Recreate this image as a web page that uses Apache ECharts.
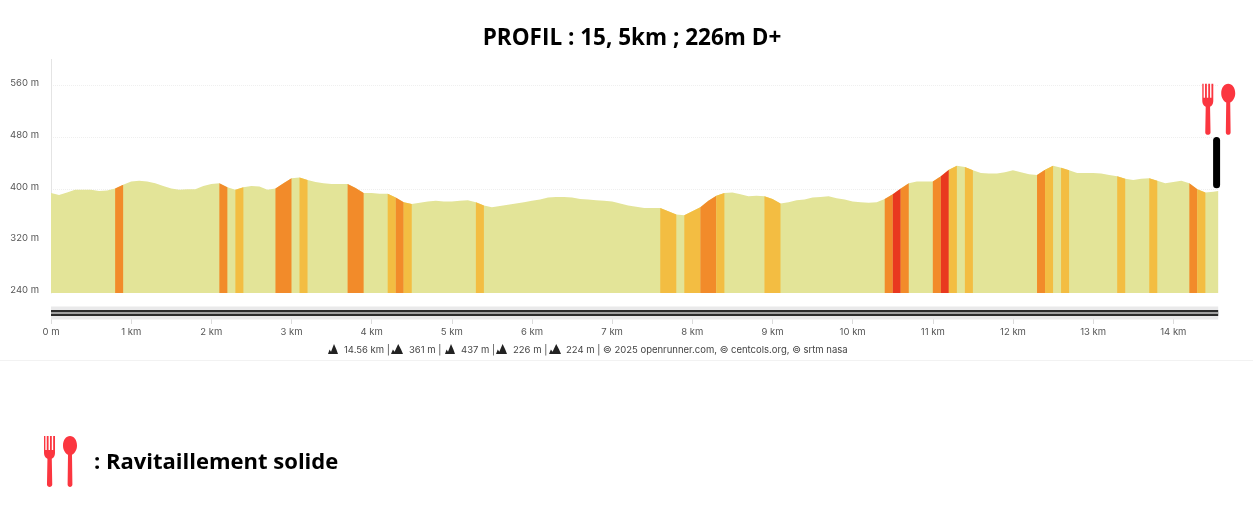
<!DOCTYPE html>
<html><head><meta charset="utf-8">
<style>html,body{margin:0;padding:0;background:#fff}#c{width:1253px;height:510px}</style>
<script src="https://cdn.jsdelivr.net/npm/echarts@6/dist/echarts.min.js"></script>
</head><body><div id="c"></div>
<script>
const distanceKm=[0,0.1,0.2,0.3,0.4,0.5,0.6,0.7,0.8,0.9,1,1.1,1.2,1.3,1.4,1.5,1.6,1.7,1.8,1.9,2,2.1,2.2,2.3,2.4,2.5,2.6,2.7,2.8,2.9,3,3.1,3.2,3.3,3.4,3.5,3.6,3.7,3.8,3.9,4,4.1,4.2,4.3,4.4,4.5,4.6,4.7,4.8,4.9,5,5.1,5.2,5.3,5.4,5.5,5.6,5.7,5.8,5.9,6,6.1,6.2,6.3,6.4,6.5,6.6,6.7,6.8,6.9,7,7.1,7.2,7.3,7.4,7.5,7.6,7.7,7.8,7.9,8,8.1,8.2,8.3,8.4,8.5,8.6,8.7,8.8,8.9,9,9.1,9.2,9.3,9.4,9.5,9.6,9.7,9.8,9.9,10,10.1,10.2,10.3,10.4,10.5,10.6,10.7,10.8,10.9,11,11.1,11.2,11.3,11.4,11.5,11.6,11.7,11.8,11.9,12,12.1,12.2,12.3,12.4,12.5,12.6,12.7,12.8,12.9,13,13.1,13.2,13.3,13.4,13.5,13.6,13.7,13.8,13.9,14,14.1,14.2,14.3,14.4,14.5,14.56];
const elevationM=[394,391,395,399,399,399,397,398,401,407,412,413,412,409,405,401,399,400,400,405,408,409,403,399,403,405,404,399,401,409,417,418,414,411,409,408,408,408,402,394,394,393,393,387,380,377,379,381,382,381,381,382,383,380,375,372,374,376,378,380,382,384,387,388,388,387,385,384,383,382,381,378,375,373,371,371,371,366,361,360,366,372,382,390,394,395,392,389,390,389,385,378,380,383,384,387,388,389,386,384,381,380,379,380,385,392,401,409,412,412,412,420,430,436,434,429,425,424,424,426,429,426,423,422,430,436,433,429,425,425,425,424,422,420,416,414,416,417,413,409,411,413,409,400,395,396,397];
const bandStart=[0.8,2.1,2.3,2.8,3.1,3.7,4.2,4.3,4.4,5.3,7.6,7.9,8.1,8.3,8.9,10.4,10.5,10.6,11,11.1,11.2,11.4,12.3,12.4,12.6,13.3,13.7,14.2,14.3];
const bandEnd=[0.9,2.2,2.4,3,3.2,3.9,4.3,4.4,4.5,5.4,7.8,8.1,8.3,8.4,9.1,10.5,10.6,10.7,11.1,11.2,11.3,11.5,12.4,12.5,12.7,13.4,13.8,14.3,14.4];
const bandClass=['o','o','y','o','y','o','y','o','y','y','y','y','o','y','y','o','r','o','o','r','y','y','o','y','y','y','y','o','y'];
const kmTicks=[0,1,2,3,4,5,6,7,8,9,10,11,12,13,14];
const elevationTicks=[240,320,400,480,560];
const gridlineTicks=[320,400,480,560];
const totalKm=14.56;
const pinBar=[[14.54,475],[14.54,407]];
const forkAt=[[14.43,523]];
const spoonAt=[[14.685,523]];
const footerParts=['14.56 km |','361 m |','437 m |','226 m |','224 m | © 2025 openrunner.com, © centcols.org, © srtm nasa'];

const colors={o:'#f28b2a',y:'#f3bd42',r:'#e9381f'};
const FORK='M1.6 0 L1.6 14 L2.8 14 L2.8 0 L4.4 0 L4.4 14 L5.6 14 L5.6 0 L7.2 0 L7.2 14 L8.4 14 L8.4 0 L10 0 L10 17 C10 21 8.2 22.5 7.2 23 L7.6 49 C7.6 52.2 3 52.2 3 49 L3.4 23 C2.4 22.5 0.4 21 0.4 17 L0.4 0 Z';
const SPOON='M7 0 C11 0 14 4 14 9.5 C14 14 11.6 17.6 9 18.8 L9.4 49 C9.4 52.2 4.6 52.2 4.6 49 L5 18.8 C2.4 17.6 0 14 0 9.5 C0 4 3 0 7 0 Z';
const MOUNT='M0 10 L1.6 6 L3 8 L6 1 L8.4 6 L10 10 Z';
const profile=distanceKm.map((d,i)=>[d,elevationM[i]]);
const FONT='Inter, Roboto, sans-serif';
const series=[{type:'line',xAxisIndex:0,yAxisIndex:0,data:profile,showSymbol:false,silent:true,
  lineStyle:{width:0},areaStyle:{color:'#e3e498',opacity:1},
  markLine:{silent:true,symbol:'none',label:{show:false},z:0,
    lineStyle:{color:'#efefef',type:'dotted',width:1},data:gridlineTicks.map(v=>({yAxis:v}))}}];
bandStart.forEach((s,i)=>{
  const e=bandEnd[i];
  series.push({type:'line',xAxisIndex:0,yAxisIndex:0,showSymbol:false,silent:true,
    data:profile.filter(p=>p[0]>=s-1e-6&&p[0]<=e+1e-6),
    lineStyle:{width:0},areaStyle:{color:colors[bandClass[i]],opacity:1}});
});
series.push({type:'line',xAxisIndex:0,yAxisIndex:0,data:pinBar,showSymbol:false,silent:true,clip:false,z:5,
  lineStyle:{color:'#000',width:7,cap:'round'}});
series.push({type:'scatter',xAxisIndex:0,yAxisIndex:0,data:forkAt,symbol:'path://'+FORK,symbolSize:[11,51],clip:false,silent:true,z:5,itemStyle:{color:'#fb3640',opacity:1}});
series.push({type:'scatter',xAxisIndex:0,yAxisIndex:0,data:spoonAt,symbol:'path://'+SPOON,symbolSize:[14,51],clip:false,silent:true,z:5,itemStyle:{color:'#fb3640',opacity:1}});
// overview strip
series.push({type:'line',xAxisIndex:1,yAxisIndex:1,data:[[0,6],[totalKm,6]],showSymbol:false,silent:true,lineStyle:{color:'#e9e9ea',width:13}});
series.push({type:'line',xAxisIndex:1,yAxisIndex:1,data:[[0,6],[totalKm,6]],showSymbol:false,silent:true,z:3,lineStyle:{color:'#2b2b2b',width:6}});
series.push({type:'line',xAxisIndex:1,yAxisIndex:1,data:[[0,6],[totalKm,6]],showSymbol:false,silent:true,z:4,lineStyle:{color:'#c9c9c9',width:1.5}});
// decorative key icons
const iconX=[[328,10],[391,12],[445,10],[496,11],[549,12]];
function pathEl(d,x,y,w,h,fill){return {type:'path',shape:{pathData:d,x:x,y:y,width:w,height:h,layout:'cover'},style:{fill:fill}};}
series.push({type:'custom',coordinateSystem:'none',silent:true,data:[0],z:6,clip:false,
  renderItem:function(){
    return {type:'group',children:[
      pathEl(FORK,44,436,11,51,'#fb3640'),
      pathEl(SPOON,63,436,14,51,'#fb3640')
    ].concat(iconX.map(a=>pathEl(MOUNT,a[0],344,a[1],10,'#222')))};
  }});
const footerX=[344,409,461,513,566];
const graphics=[
  {type:'rect',shape:{x:0,y:360,width:1253,height:1},style:{fill:'#f2f2f2'}},
  {type:'text',x:94,y:463,style:{text:': Ravitaillement solide',font:'bold 22px "Open Sans", sans-serif',fill:'#000',textVerticalAlign:'middle'}}
];
footerParts.forEach((t,i)=>{
  graphics.push({type:'text',x:footerX[i],y:350,style:{text:t,font:'9.5px '+FONT,fill:'#444',textVerticalAlign:'middle'}});
});
const chart=echarts.init(document.getElementById('c'),null,{renderer:'canvas'});
chart.setOption({animation:false,backgroundColor:'#fff',
  title:{text:'PROFIL : 15, 5km ; 226m D+',left:627,top:22,textAlign:'center',textStyle:{fontFamily:'"Open Sans", sans-serif',fontWeight:'bold',fontSize:22.5,color:'#000'}},
  grid:[{left:51,right:34.8,top:59.4,height:233.6},{left:51,right:34.8,top:307,height:12}],
  xAxis:[
    {type:'value',gridIndex:0,min:0,max:totalKm,show:false,splitLine:{show:false}},
    {type:'value',gridIndex:1,min:0,max:totalKm,interval:1,splitLine:{show:false},axisLine:{show:false},
     axisTick:{show:true,length:5,lineStyle:{color:'#dcdcdc'},customValues:kmTicks},
     axisLabel:{customValues:kmTicks,margin:8,color:'#555',fontSize:9.5,fontFamily:FONT,formatter:v=>v===0?'0 m':v+' km'}}
  ],
  yAxis:[
    {type:'value',gridIndex:0,min:240,max:600,splitLine:{show:false},
     axisLine:{show:true,lineStyle:{color:'#e4e4e4'}},axisTick:{show:false},
     axisLabel:{customValues:elevationTicks,margin:12,verticalAlign:'bottom',lineHeight:5,color:'#555',fontSize:9.5,fontFamily:FONT,formatter:v=>v+' m'}},
    {type:'value',gridIndex:1,min:0,max:12,show:false,splitLine:{show:false}}
  ],
  series:series,
  graphic:{elements:graphics}
});
</script></body></html>
